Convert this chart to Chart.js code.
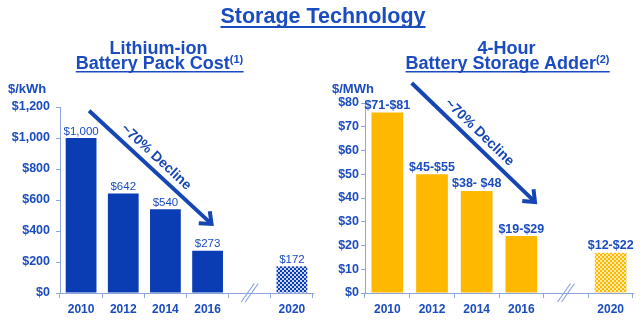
<!DOCTYPE html>
<html>
<head>
<meta charset="utf-8">
<script src="https://cdn.jsdelivr.net/npm/chart.js@4/dist/chart.umd.min.js"></script>
<style>
  html, body { margin: 0; padding: 0; background: #ffffff; }
  #wrap { position: relative; width: 640px; height: 322px; overflow: hidden; }
  #wrap canvas { position: absolute; top: 0; }
  #costChart { left: 0; }
  #adderChart { left: 320px; }
  #labels { position: absolute; left: 0; top: 0; pointer-events: none; }
</style>
</head>
<body>
<div id="wrap">
  <canvas id="costChart" width="320" height="322"></canvas>
  <canvas id="adderChart" width="320" height="322"></canvas>
  <svg id="labels" width="640" height="322" font-family="'Liberation Sans', Arial, Helvetica, sans-serif" font-weight="bold" fill="#1A4CC0">
    <text id="mainTitle" x="323" y="22.7" font-size="21.5" text-anchor="middle">Storage Technology</text>
    <text x="158.5" y="54.3" font-size="18" text-anchor="middle">Lithium-ion</text>
    <text id="costTitle" x="159.5" y="68.5" font-size="18" text-anchor="middle">Battery Pack Cost<tspan font-size="11" dy="-6">(1)</tspan></text>
    <text x="506.5" y="54.3" font-size="18" text-anchor="middle">4-Hour</text>
    <text id="adderTitle" x="507.5" y="68.5" font-size="18" text-anchor="middle">Battery Storage Adder<tspan font-size="11" dy="-6">(2)</tspan></text>
    <text x="8" y="93" font-size="13">$/kWh</text>
    <text x="332" y="93" font-size="13">$/MWh</text>
  </svg>
</div>
<script>
// ---- data ----
const years = ['2010', '2012', '2014', '2016', '', '2020'];

// Lithium-ion battery pack cost, $/kWh (2020 is a projection)
const packCost = [1000, 642, 540, 273, null, 172];
const packCostTicks = [0, 200, 400, 600, 800, 1000, 1200];

// 4-hour battery storage adder, $/MWh ranges (2020 is a projection)
const adderLow  = [71, 45, 38, 19, null, 12];
const adderHigh = [81, 55, 48, 29, null, 22];
const adderLabels = ['$71-$81', '$45-$55', '$38- $48', '$19-$29', '', '$12-$22'];
const adderTicks = [0, 10, 20, 30, 40, 50, 60, 70, 80];

// bars sit at the middle of each range
const adderMid = adderLow.map((lo, i) => lo === null ? null : (lo + adderHigh[i]) / 2);

// ---- styling ----
const FONT = "'Liberation Sans', Arial, Helvetica, sans-serif";
const TEXT_BLUE = '#1A4CC0';
const BAR_BLUE = '#0A3DB4';
const BAR_GOLD = '#FFB800';
const AXIS = '#8CA6DC';
const ARROW = '#1646B4';

Chart.defaults.font.family = FONT;

function ditherPattern(base, light) {
  const c = document.createElement('canvas');
  c.width = 4; c.height = 4;
  const g = c.getContext('2d');
  g.fillStyle = base; g.fillRect(0, 0, 4, 4);
  g.fillStyle = light;
  g.fillRect(0, 0, 2, 2);
  g.fillRect(2, 2, 2, 2);
  return g.createPattern(c, 'repeat');
}

// value labels above each bar
const valueLabels = {
  id: 'valueLabels',
  afterDatasetsDraw(chart, args, opts) {
    const ctx = chart.ctx;
    const meta = chart.getDatasetMeta(0);
    ctx.save();
    ctx.font = opts.font;
    ctx.fillStyle = opts.color;
    ctx.textAlign = 'center';
    ctx.textBaseline = 'alphabetic';
    meta.data.forEach((bar, i) => {
      const t = opts.labels[i];
      if (!t) return;
      ctx.fillText(t, bar.x, bar.y - opts.gap);
    });
    ctx.restore();
  }
};

// trend arrow with rotated caption, placed in data space
const trendArrow = {
  id: 'trendArrow',
  afterDatasetsDraw(chart, args, opts) {
    const xs = chart.scales.x, ys = chart.scales.y;
    const x1 = xs.getPixelForValue(opts.from[0]), y1 = ys.getPixelForValue(opts.from[1]);
    const x2 = xs.getPixelForValue(opts.to[0]),   y2 = ys.getPixelForValue(opts.to[1]);
    const ang = Math.atan2(y2 - y1, x2 - x1);
    const len = Math.hypot(x2 - x1, y2 - y1);
    const ctx = chart.ctx;
    ctx.save();
    ctx.strokeStyle = opts.color;
    ctx.lineWidth = 4;
    ctx.lineCap = 'butt';
    ctx.beginPath();
    ctx.moveTo(x1, y1);
    ctx.lineTo(x2 - 2 * Math.cos(ang), y2 - 2 * Math.sin(ang));
    ctx.stroke();
    const h = 14, spread = 0.62;
    ctx.lineJoin = 'miter';
    ctx.beginPath();
    ctx.moveTo(x2 - h * Math.cos(ang - spread), y2 - h * Math.sin(ang - spread));
    ctx.lineTo(x2 - 1.5 * Math.cos(ang), y2 - 1.5 * Math.sin(ang));
    ctx.lineTo(x2 - h * Math.cos(ang + spread), y2 - h * Math.sin(ang + spread));
    ctx.stroke();
    // caption
    const s = len * opts.textAt;
    const cx = x1 + s * Math.cos(ang) + opts.textOffset * Math.sin(ang);
    const cy = y1 + s * Math.sin(ang) - opts.textOffset * Math.cos(ang);
    ctx.translate(cx, cy);
    ctx.rotate(ang);
    ctx.fillStyle = opts.color;
    ctx.font = opts.font;
    ctx.textAlign = 'center';
    ctx.textBaseline = 'middle';
    ctx.fillText(opts.text, 0, 0);
    ctx.restore();
  }
};

// "//" break mark on the category axis
const axisBreak = {
  id: 'axisBreak',
  afterDraw(chart, args, opts) {
    const xs = chart.scales.x;
    const cx = xs.getPixelForValue(opts.index);
    const ay = chart.chartArea.bottom;
    const ctx = chart.ctx;
    ctx.save();
    ctx.strokeStyle = opts.color;
    ctx.lineWidth = 1.2;
    [-2, 2].forEach(d => {
      ctx.beginPath();
      ctx.moveTo(cx + d - 6.5, ay + 9);
      ctx.lineTo(cx + d + 6.5, ay - 9.5);
      ctx.stroke();
    });
    ctx.restore();
  }
};

function makeChart(canvasId, o) {
  const ctx = document.getElementById(canvasId).getContext('2d');
  const colors = o.values.map((v, i) => i === o.values.length - 1 ? o.pattern : o.color);
  return new Chart(ctx, {
    type: 'bar',
    data: {
      labels: years,
      datasets: [{
        data: o.values,
        backgroundColor: colors,
        borderWidth: 0,
        barPercentage: o.barPct,
        categoryPercentage: 1
      }]
    },
    options: {
      responsive: false,
      animation: false,
      devicePixelRatio: 1,
      layout: { padding: { top: o.top, right: 7, left: 0, bottom: 0 } },
      plugins: {
        legend: { display: false },
        tooltip: { enabled: false },
        valueLabels: { labels: o.labels, font: o.labelFont, color: TEXT_BLUE, gap: 3.5 },
        trendArrow: {
          from: o.arrowFrom, to: o.arrowTo, color: ARROW,
          text: '~70% Decline', font: 'bold 14px ' + FONT,
          textAt: 0.48, textOffset: 11.5
        },
        axisBreak: { index: 4, color: AXIS }
      },
      scales: {
        x: {
          offset: true,
          grid: { display: true, drawOnChartArea: false, drawTicks: true, tickLength: 5, color: AXIS, offset: true },
          border: { display: true, color: AXIS, width: 1 },
          ticks: { color: TEXT_BLUE, font: { size: 12, weight: 'bold' }, padding: 4 },
          afterFit: s => { s.height = 29; }
        },
        y: {
          min: 0,
          max: o.max,
          afterBuildTicks: s => { s.ticks = o.ticks.map(v => ({ value: v })); },
          grid: { display: true, drawOnChartArea: false, drawTicks: true, tickLength: 4, color: AXIS },
          border: { display: true, color: AXIS, width: 1 },
          ticks: {
            color: TEXT_BLUE,
            font: { size: 12.5, weight: 'bold' },
            padding: o.tickPad,
            callback: v => '$' + Number(v).toLocaleString('en-US')
          },
          afterFit: s => { s.width = o.axisWidth; }
        }
      }
    },
    plugins: [valueLabels, trendArrow, axisBreak]
  });
}

makeChart('costChart', {
  values: packCost,
  labels: packCost.map(v => v === null ? '' : '$' + v.toLocaleString('en-US')),
  labelFont: '11.5px ' + FONT,
  color: BAR_BLUE,
  pattern: ditherPattern(BAR_BLUE, '#C9D5F2'),
  barPct: 0.73,
  max: 1200,
  ticks: packCostTicks,
  top: 107,
  axisWidth: 60,
  tickPad: 6,
  arrowFrom: [0.19, 1176],
  arrowTo: [3.12, 439]
});

makeChart('adderChart', {
  values: adderMid,
  labels: adderLabels,
  labelFont: 'bold 12.5px ' + FONT,
  color: BAR_GOLD,
  pattern: ditherPattern(BAR_GOLD, '#FFE9A8'),
  barPct: 0.71,
  max: 80,
  ticks: adderTicks,
  top: 103,
  axisWidth: 45,
  tickPad: 2,
  arrowFrom: [0.545, 88.4],
  arrowTo: [3.33, 37.9]
});

// underlines for the headings
function underline(id, y, w) {
  const t = document.getElementById(id);
  const b = t.getBBox();
  const l = document.createElementNS('http://www.w3.org/2000/svg', 'line');
  l.setAttribute('x1', b.x);
  l.setAttribute('x2', b.x + b.width);
  l.setAttribute('y1', y);
  l.setAttribute('y2', y);
  l.setAttribute('stroke', TEXT_BLUE);
  l.setAttribute('stroke-width', w);
  t.parentNode.appendChild(l);
}
underline('mainTitle', 27, 2);
underline('costTitle', 71.8, 1.5);
underline('adderTitle', 71.8, 1.5);
</script>
</body>
</html>
